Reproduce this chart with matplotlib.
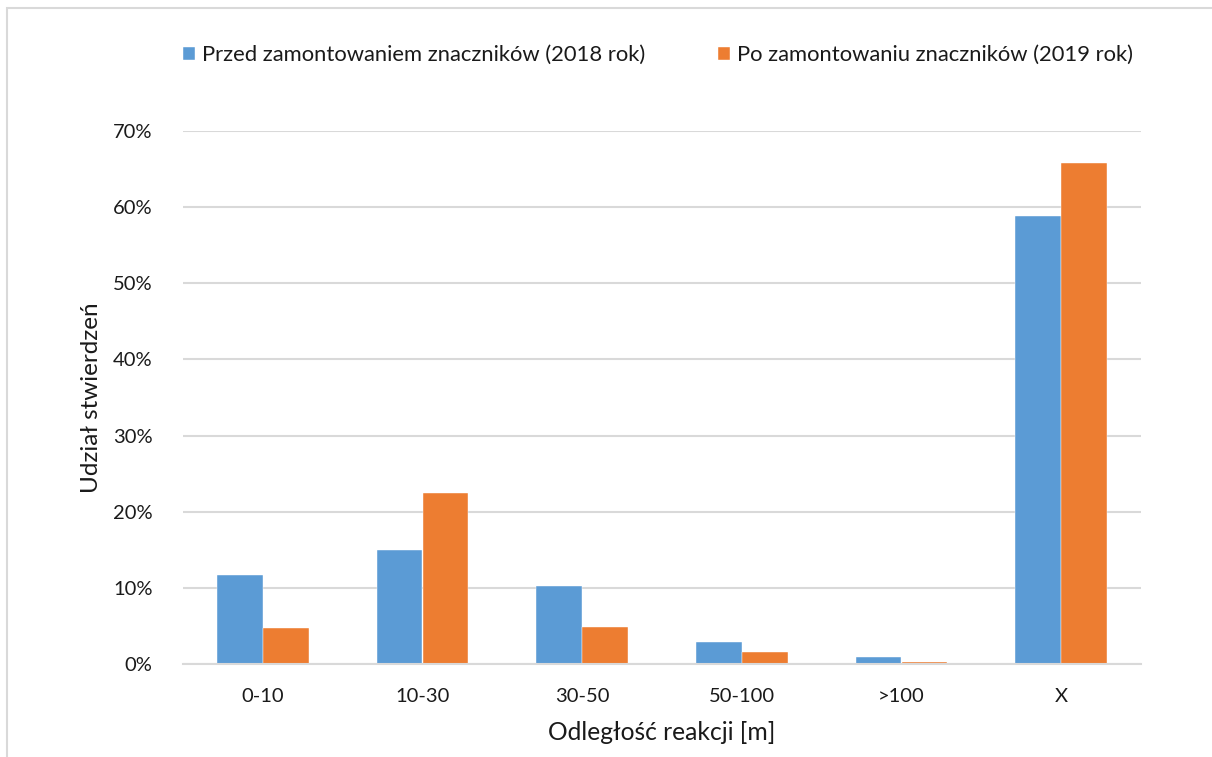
import matplotlib
matplotlib.use("Agg")
import matplotlib.pyplot as plt
from matplotlib.patches import Rectangle
from matplotlib.ticker import FuncFormatter
import numpy as np

categories = ["0-10", "10-30", "30-50", "50-100", ">100", "X"]
before_2018 = [11.7, 15.0, 10.3, 2.9, 0.9, 58.8]
after_2019 = [4.7, 22.5, 4.9, 1.6, 0.3, 65.8]
series_labels = ["Przed zamontowaniem znaczników (2018 rok)",
                 "Po zamontowaniu znaczników (2019 rok)"]
y_ticks = [0, 10, 20, 30, 40, 50, 60, 70]

blue = "#5B9BD5"
orange = "#ED7D31"
grid_color = "#D9D9D9"
text_color = "#1A1A1A"

plt.rcParams["font.family"] = ["Lato", "DejaVu Sans"]

fig = plt.figure(figsize=(12.12, 7.57), dpi=100)
W, H = 1212, 757

# outer chart border (left and top edges visible)
fig.add_artist(Rectangle((7 / W, -0.1), 1.2, (757 - 8) / H + 0.1,
                         transform=fig.transFigure, fill=False,
                         edgecolor="#D9D9D9", linewidth=1.5))

ax = fig.add_axes([183 / W, 1 - 664 / H, (1141 - 183) / W, (664 - 131) / H])

x = np.arange(len(categories))
bw = 0.288
ax.bar(x - bw / 2, before_2018, width=bw, color=blue, edgecolor="#FFFFFF",
       linewidth=0.3, label=series_labels[0], zorder=3)
ax.bar(x + bw / 2, after_2019, width=bw, color=orange, edgecolor="#FFFFFF",
       linewidth=0.3, label=series_labels[1], zorder=3)

ax.set_xlim(-0.5, len(categories) - 0.5)
ax.set_ylim(0, 70)
ax.set_yticks(y_ticks)
ax.yaxis.set_major_formatter(FuncFormatter(lambda v, p: f"{v:.0f}%"))
ax.set_xticks(x)
ax.set_xticklabels(categories)

ax.grid(axis="y", color=grid_color, linewidth=1.5, zorder=0)
ax.set_axisbelow(True)
for side in ["top", "right", "left"]:
    ax.spines[side].set_visible(False)
ax.spines["bottom"].set_color(grid_color)
ax.spines["bottom"].set_linewidth(1.5)
ax.spines["bottom"].set_zorder(4)
ax.tick_params(axis="both", length=0, labelsize=14.5, colors=text_color)
ax.tick_params(axis="x", pad=17)
ax.tick_params(axis="y", pad=22)

ax.set_xlabel("Odległość reakcji [m]", fontsize=17.7, color=text_color, labelpad=12)
ax.set_ylabel("Udział stwierdzeń", fontsize=17.5, color=text_color, labelpad=8)

leg = fig.legend(loc="center", bbox_to_anchor=(658 / W, 1 - 55 / H), ncol=2,
                 frameon=False, fontsize=15.8, handlelength=0.55, handleheight=0.55,
                 handletextpad=0.32, columnspacing=3.3, labelcolor=text_color)

fig.savefig("out.png", dpi=100, facecolor="white")
